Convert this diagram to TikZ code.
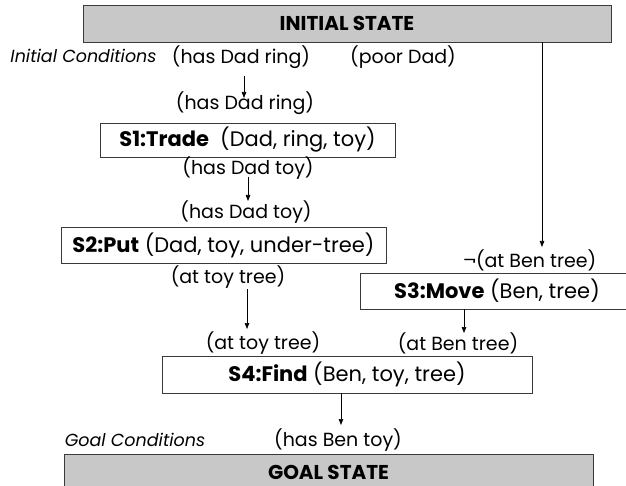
\documentclass[tikz,border=0pt]{standalone}
\usepackage{fontspec}
\setmainfont{Poppins}
\usetikzlibrary{arrows.meta,calc}
\definecolor{statefill}{HTML}{C8C8C8}
\definecolor{edge}{HTML}{3A3A3A}
\begin{document}
\begin{tikzpicture}[x=1pt,y=-1pt,
  cond/.style={inner sep=0pt,font=\fontsize{19}{22}\selectfont},
  note/.style={inner sep=0pt,font=\fontsize{17.5}{20}\selectfont\itshape},
  statebox/.style={draw=edge,line width=0.9pt,fill=statefill,inner sep=0pt,
    font=\fontsize{20}{24}\selectfont\bfseries},
  stepbox/.style={draw=edge,line width=0.9pt,fill=white,inner sep=0pt,
    font=\fontsize{21}{24}\selectfont},
  arr/.style={-{Triangle[length=6pt,width=4.5pt]},line width=0.7pt}]
\useasboundingbox (0,0) rectangle (626,486);
\clip (0,0) rectangle (626,486);

% start and goal states
\node[statebox,minimum width=528,minimum height=37] (init) at (347,23.5) {INITIAL STATE};
\node[statebox,minimum width=529,minimum height=36] (goal) at (328.5,472) {GOAL STATE};

% plan steps
\node[stepbox,minimum width=295,minimum height=34] (s1) at (247.5,140) {\textbf{S1:Trade}\ \ (Dad, ring, toy)};
\node[stepbox,minimum width=325,minimum height=36] (s2) at (223.5,245) {\textbf{S2:Put} (Dad, toy, under-tree)};
\node[stepbox,minimum width=274,minimum height=36] (s3) at (497,291) {\textbf{S3:Move} (Ben, tree)};
\node[stepbox,minimum width=370,minimum height=37] (s4) at (347,374.5) {\textbf{S4:Find} (Ben, toy, tree)};

% conditions
\node[note] (ic) at (83.5,56) {Initial Conditions};
\node[cond] (hdr1) at (241,57) {(has Dad ring)};
\node[cond] (pd) at (403,57) {(poor Dad)};
\node[cond] (hdr2) at (245,103) {(has Dad ring)};
\node[cond] (hdt1) at (248,168) {(has Dad toy)};
\node[cond] (hdt2) at (246,212) {(has Dad toy)};
\node[cond] (att1) at (228,277) {(at toy tree)};
\node[cond] (nab) at (530,260) {¬(at Ben tree)};
\node[cond] (att2) at (263,343) {(at toy tree)};
\node[cond] (abt) at (458,343) {(at Ben tree)};
\node[note] (gc) at (135,440) {Goal Conditions};
\node[cond] (hbt) at (338,440) {(has Ben toy)};

% causal links
\draw[arr] ($(hdr1.center)+(3,19)$) -- ($(hdr2.center)+(-1,-5)$);
\draw[arr] ($(hdt1.center)+(0,9)$) -- ($(hdt2.center)+(2,-11)$);
\draw[arr] ($(init.south)+(195,0)$) -- ($(nab.center)+(12,-13)$);
\draw[arr] ($(att1.center)+(19,12)$) -- ($(att2.center)+(-16,-14)$);
\draw[arr] ($(s3.south)+(-33,0)$) -- ($(abt.center)+(6,-10)$);
\draw[arr] ($(s4.south)+(-6,0)$) -- ($(hbt.center)+(3,-15)$);
\end{tikzpicture}
\end{document}
